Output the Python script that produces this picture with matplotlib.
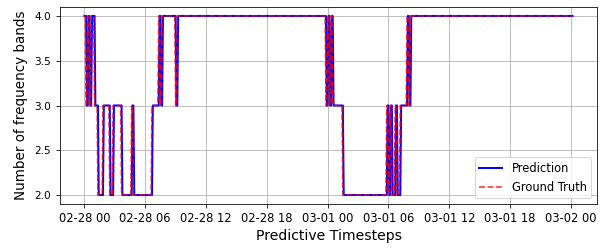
import numpy as np
import pandas as pd
import matplotlib
matplotlib.use("Agg")
import matplotlib.pyplot as plt
import matplotlib.dates as mdates
from matplotlib.ticker import MultipleLocator

# Run-length encoded series (values, number of 5-minute steps)
gt_values = [4, 3, 4, 3, 4, 3, 2, 3, 2, 3, 2, 3, 2, 3, 4, 3, 4, 3, 4,
             3, 4, 3, 4, 3, 2, 3, 2, 3, 2, 3, 2, 3, 4, 3, 4]
gt_counts = [2, 2, 2, 2, 4, 4, 6, 8, 4, 10, 12, 2, 22, 8, 2, 2, 16, 2, 176,
             2, 2, 2, 2, 12, 52, 2, 2, 2, 4, 2, 4, 8, 2, 2, 193]

pred_values = [4, 3, 4, 3, 4, 3, 2, 3, 2, 3, 2, 3, 2, 3, 4, 3, 4, 3, 4,
               3, 4, 3, 4, 3, 2, 3, 2, 3, 2, 3, 2, 3, 4, 3, 4]
pred_counts = [3, 2, 2, 2, 4, 4, 6, 8, 4, 10, 12, 2, 22, 8, 2, 2, 16, 2, 176,
               2, 2, 2, 2, 12, 52, 2, 2, 2, 4, 2, 4, 8, 2, 2, 192]

start_time = "2021-02-28 00:00"
step = "5min"

ground_truth = np.repeat(gt_values, gt_counts)
prediction = np.repeat(pred_values, pred_counts)
times = pd.date_range(start_time, periods=len(ground_truth), freq=step)

fig, ax = plt.subplots(figsize=(600 / 72, 248 / 72), dpi=72)
fig.subplots_adjust(left=60 / 600, right=597 / 600, top=1 - 7 / 248,
                    bottom=1 - 204 / 248)
ax.plot(times, prediction, color="blue", lw=2, label="Prediction")
ax.plot(times, ground_truth, color="red", ls="--", lw=1.6, alpha=0.8,
        label="Ground Truth")

ax.xaxis.set_major_locator(mdates.HourLocator(byhour=[0, 6, 12, 18]))
ax.xaxis.set_major_formatter(mdates.DateFormatter("%m-%d %H"))
ax.yaxis.set_major_locator(MultipleLocator(0.5))
ax.tick_params(axis="x", labelsize=11.5, length=4, pad=4)
ax.tick_params(axis="y", labelsize=10.5, length=4, pad=5)
ax.grid(True)
ax.set_xlabel("Predictive Timesteps", fontsize=14, labelpad=4)
ax.set_ylabel("Number of frequency bands", fontsize=13.5, labelpad=6)
ax.legend(loc="lower right", fontsize=11.5)

fig.savefig("out.png", dpi=72)
